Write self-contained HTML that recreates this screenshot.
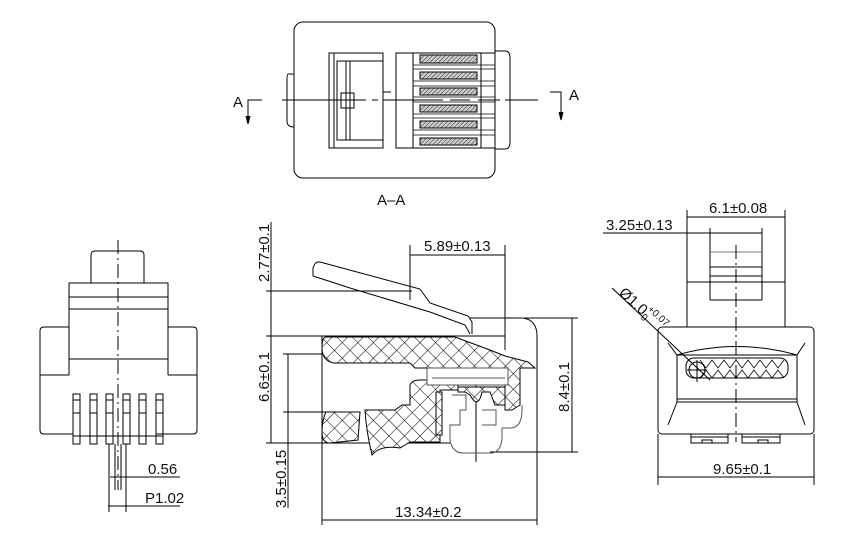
<!DOCTYPE html>
<html><head><meta charset="utf-8"><style>
html,body{margin:0;padding:0;background:#fff}
svg{display:block}
text{font-family:"Liberation Sans",sans-serif;font-size:15px;fill:#111}
</style></head><body>
<svg width="863" height="552" viewBox="0 0 863 552" xmlns="http://www.w3.org/2000/svg">
<defs>
<pattern id="x" width="11" height="11" patternUnits="userSpaceOnUse" patternTransform="rotate(45)">
<rect width="11" height="11" fill="#fff"/>
<line x1="0" y1="0" x2="0" y2="11" stroke="#000" stroke-width="1"/>
<line x1="0" y1="0" x2="11" y2="0" stroke="#000" stroke-width="1"/>
</pattern>
<pattern id="h" width="3" height="3" patternUnits="userSpaceOnUse" patternTransform="rotate(45)">
<rect width="3" height="3" fill="#ccc"/>
<line x1="0" y1="0" x2="0" y2="3" stroke="#333" stroke-width="1"/>
</pattern>
</defs>
<g fill="none" stroke="#000" stroke-width="1">
<!-- TOP VIEW -->
<rect x="294" y="22" width="201" height="156" rx="9"/>
<path d="M294 74 H288 Q287 74 287 80 V121 Q287 127 294 127"/>
<path d="M495 51 H505 Q510 51 510 58 V142 Q510 149 505 149 H495"/>
<rect x="329" y="53" width="54" height="95"/>
<line x1="334" y1="53" x2="334" y2="148"/>
<rect x="337" y="61" width="46" height="79"/>
<line x1="346" y1="61" x2="346" y2="140"/><line x1="350" y1="61" x2="350" y2="140"/>
<rect x="341" y="93" width="13" height="15"/>
<rect x="396" y="53" width="17" height="95"/>
<line x1="413" y1="53" x2="495" y2="53"/><line x1="413" y1="148" x2="495" y2="148"/>
<g>
<rect x="420" y="55" width="57" height="8" fill="url(#h)"/>
<rect x="420" y="72" width="57" height="7" fill="url(#h)"/>
<rect x="420" y="88" width="57" height="7" fill="url(#h)"/>
<rect x="420" y="105" width="57" height="7" fill="url(#h)"/>
<rect x="420" y="121" width="57" height="7" fill="url(#h)"/>
<rect x="420" y="138" width="57" height="7" fill="url(#h)"/>
</g>
<path d="M413 65 H495 M413 69 H495 M413 81 H495 M413 86 H495 M413 97 H495 M413 102 H495 M413 114 H495 M413 118 H495 M413 130 H495 M413 135 H495" stroke-width="0.8"/>
<line x1="481" y1="53" x2="481" y2="148"/>
<line x1="282" y1="100" x2="366" y2="100"/>
<line x1="372" y1="100" x2="378" y2="100"/>
<path d="M383 100 H443 M450 100 H470 M478 100 H500 M505 100 H538"/>
<path d="M383 100 V92 H391"/>
<path d="M262 100 H248 V122"/><path d="M246 116 L248 124 L250 116" fill="#000"/>
<path d="M550 92 H561 V118"/><path d="M559 112 L561 120 L563 112" fill="#000"/>
</g>
<text x="233" y="107">A</text>
<text x="569" y="100">A</text>
<text x="377" y="205">A–A</text>

<!-- LEFT FRONT VIEW -->
<g fill="none" stroke="#000" stroke-width="1">
<path d="M91 283 V255 Q91 251 95 251 H140 Q144 251 144 255 V283"/>
<rect x="69" y="283" width="99" height="26"/>
<line x1="69" y1="297" x2="168" y2="297"/>
<line x1="69" y1="309" x2="69" y2="375"/><line x1="168" y1="309" x2="168" y2="375"/>
<line x1="69" y1="359" x2="168" y2="359"/>
<path d="M69 327 H44 Q40 327 40 331 V430 Q40 434 44 434 H73 M156 434 H193 Q197 434 197 430 V331 Q197 327 193 327 H168"/>
<line x1="40" y1="375" x2="69" y2="375"/><line x1="168" y1="375" x2="197" y2="375"/>
<g>
<rect x="73" y="394" width="7" height="50"/><rect x="90" y="394" width="7" height="50"/>
<rect x="106" y="394" width="7" height="50"/><rect x="123" y="394" width="7" height="50"/>
<rect x="139" y="394" width="7" height="50"/><rect x="156" y="394" width="7" height="50"/>
<path d="M73 400 H80 M90 400 H97 M106 400 H113 M123 400 H130 M139 400 H146 M156 400 H163 M73 413 H80 M90 413 H97 M106 413 H113 M123 413 H130 M139 413 H146 M156 413 H163"/>
<path d="M73 436 H163"/>
</g>
<line x1="118" y1="240" x2="118" y2="490" stroke-dasharray="14,4,2,4"/>
<line x1="109" y1="444" x2="109" y2="512"/><line x1="126" y1="444" x2="126" y2="512"/>
<line x1="115" y1="444" x2="115" y2="490"/><line x1="121" y1="444" x2="121" y2="490"/>
<line x1="110" y1="477" x2="180" y2="477"/>
<line x1="108" y1="506" x2="180" y2="506"/>
</g>
<text x="148" y="474">0.56</text>
<text x="145" y="503">P1.02</text>

<!-- SIDE VIEW -->
<g fill="none" stroke="#000" stroke-width="1">
<line x1="271" y1="222" x2="271" y2="443"/>
<line x1="266" y1="291" x2="412" y2="291"/>
<line x1="266" y1="336" x2="505" y2="336"/>
<line x1="266" y1="443" x2="450" y2="443"/>
<path d="M313 276 L313 268 Q315 261 320 262 L420 289 L430 303 L468 316 L472 322 L472 334"/>
<path d="M313 276 L350 288 L430 312 L465 325 L470 334"/>
<path d="M470 318 H523 Q537 320 537 336 V367"/>
<line x1="525" y1="318" x2="578" y2="318"/>
<line x1="490" y1="452" x2="578" y2="452"/>
<line x1="572" y1="318" x2="572" y2="452"/>
<line x1="410" y1="245" x2="410" y2="300"/>
<line x1="505" y1="245" x2="505" y2="350"/>
<line x1="410" y1="255" x2="505" y2="255"/>
<line x1="283" y1="354" x2="407" y2="354"/>
<line x1="283" y1="412" x2="360" y2="412"/>
<line x1="288" y1="354" x2="288" y2="508"/>
<line x1="322" y1="336" x2="322" y2="525"/>
<line x1="537" y1="367" x2="537" y2="525"/>
<line x1="322" y1="520" x2="537" y2="520"/>
<line x1="476" y1="385" x2="476" y2="462"/>
</g>
<g stroke="#000" stroke-width="1" fill="url(#x)">
<path d="M326 337 H455 L490 350 L505 356 L528 362 L535 368 H520 V405 L512 410 H505 V368 H415 L410 363 H333 Q322 360 322 348 Q322 337 326 337 Z"/>
<path d="M326 412 H360 L358 440 L330 443 Q322 443 322 432 Q322 420 326 412 Z"/>
<path d="M365 410 H395 L402 405 H410 V385 Q412 380 420 380 H458 V390 H440 V442 H410 L400 448 Q380 445 372 455 Q366 430 365 410 Z"/>
<path d="M458 387 H505 V405 H495 L490 392 L482 392 Q478 410 470 395 L465 392 L458 392 Z"/>
<path d="M436 392 H442 V435 H436 Z"/>
</g>
<g fill="none" stroke="#555" stroke-width="1">
<rect x="427" y="368" width="81" height="17" fill="#fff"/>
<line x1="432" y1="378" x2="505" y2="378"/>
<path d="M452 395 H466 V410 H460 V425 H450 V440 Q452 452 462 453 H492 Q500 452 502 440 V428 H510 Q522 428 522 410 V405"/>
<path d="M482 410 H496 V425 H482"/>
</g>
<text transform="translate(269,282) rotate(-90)">2.77±0.1</text>
<text transform="translate(269,402) rotate(-90)">6.6±0.1</text>
<text transform="translate(286,508) rotate(-90)">3.5±0.15</text>
<text transform="translate(569,412) rotate(-90)">8.4±0.1</text>
<text x="424" y="251">5.89±0.13</text>
<text x="395" y="517">13.34±0.2</text>

<!-- RIGHT VIEW -->
<g fill="none" stroke="#000" stroke-width="1">
<line x1="687" y1="210" x2="687" y2="327"/><line x1="785" y1="210" x2="785" y2="327"/>
<line x1="687" y1="217" x2="785" y2="217"/>
<line x1="603" y1="233" x2="762" y2="233"/>
<line x1="710" y1="228" x2="710" y2="300"/><line x1="762" y1="228" x2="762" y2="300"/>
<line x1="710" y1="252" x2="762" y2="252" stroke="#777"/>
<line x1="710" y1="267" x2="762" y2="267"/>
<line x1="710" y1="276" x2="762" y2="276"/>
<line x1="687" y1="282" x2="785" y2="282"/>
<line x1="710" y1="300" x2="762" y2="300"/>
<rect x="658" y="327" width="156" height="107" rx="4"/>
<path d="M668 343 L677 355 Q736 338 797 355 L805 343"/>
<rect x="677" y="355" width="120" height="47"/>
<rect x="686" y="358" width="102" height="20" rx="8"/>
<path d="M700 360 L706 368 L712 360 L718 368 L724 360 L730 368 L736 360 L742 368 L748 360 L754 368 L760 360 L766 368 L772 360 L778 368 L784 360 M700 378 L706 370 L712 378 L718 370 L724 378 L730 370 L736 378 L742 370 L748 378 L754 370 L760 378 L766 370 L772 378 L778 370 L784 378" stroke-width="0.8"/>
<line x1="677" y1="399" x2="797" y2="399"/>
<path d="M668 425 L677 402 M805 425 L797 402"/>
<circle cx="697" cy="370" r="8"/>
<line x1="687" y1="370" x2="707" y2="370"/><line x1="697" y1="360" x2="697" y2="382"/>
<line x1="612" y1="288" x2="710" y2="380"/>
<line x1="736" y1="245" x2="736" y2="442" stroke-dasharray="14,4,2,4"/>
<path d="M691 434 V443 H728 V434 M702 443 V440 H712 V443 M742 434 V443 H780 V434 M758 443 V440 H768 V443 M691 437 H728 M742 437 H780"/>
<line x1="658" y1="434" x2="658" y2="485"/><line x1="814" y1="434" x2="814" y2="485"/>
<line x1="658" y1="477" x2="814" y2="477"/>
</g>
<text x="709" y="213">6.1±0.08</text>
<text x="606" y="230">3.25±0.13</text>
<text transform="translate(618,294) rotate(42)">Ø1.0</text>
<text transform="translate(647,310) rotate(42)" style="font-size:10px">+0.07</text>
<text transform="translate(640,318) rotate(42)" style="font-size:10px">0</text>
<text x="713" y="474">9.65±0.1</text>
</svg>
</body></html>
